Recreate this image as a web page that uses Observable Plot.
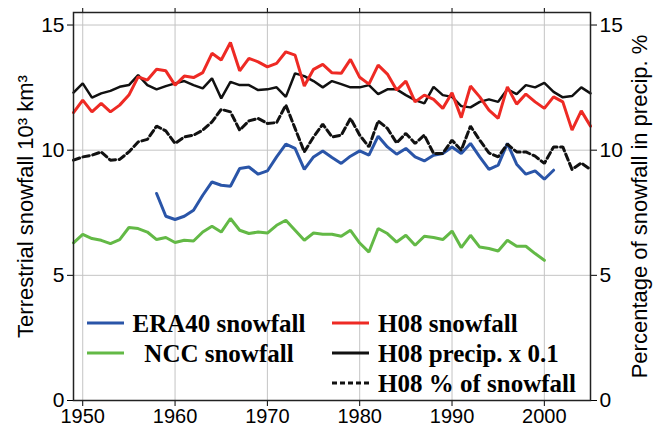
<!DOCTYPE html>
<html>
<head>
<meta charset="utf-8">
<script src="https://cdn.jsdelivr.net/npm/d3@7"></script>
<script src="https://cdn.jsdelivr.net/npm/@observablehq/plot@0.6"></script>
<style>
  html, body { margin: 0; padding: 0; background: #fff; }
  #chart { width: 659px; height: 432px; }
</style>
</head>
<body>
<div id="chart"></div>
<script>
// ---- Data ----
const firstYearH08 = 1949;   // H08 series and NCC start
const firstYearERA = 1958;   // ERA40 starts

const h08Snowfall = [11.5, 12.0, 11.53, 11.87, 11.53, 11.8, 12.2, 12.93, 12.8, 13.23,
  13.17, 12.6, 12.96, 12.9, 13.1, 13.87, 13.6, 14.3, 13.17, 13.67,
  13.53, 13.33, 13.47, 13.93, 13.8, 12.56, 13.23, 13.43, 13.09, 13.07,
  13.63, 12.91, 12.64, 13.4, 13.04, 12.4, 12.76, 11.93, 12.2, 12.03,
  11.67, 12.29, 11.3, 12.56, 12.13, 11.6, 11.27, 12.53, 11.84, 12.24,
  11.93, 11.67, 12.13, 11.93, 10.8, 11.57, 10.96];

const h08Precip = [12.3, 12.67, 12.1, 12.27, 12.37, 12.53, 12.6, 13.0, 12.6, 12.43,
  12.56, 12.67, 12.76, 12.6, 12.47, 12.87, 12.07, 12.73, 12.6, 12.6,
  12.4, 12.43, 12.51, 12.13, 13.07, 12.96, 12.76, 12.51, 12.76, 12.64,
  12.51, 12.51, 12.6, 12.24, 12.43, 12.43, 12.2, 12.0, 11.87, 12.53,
  12.2, 12.13, 11.76, 11.71, 11.93, 12.03, 11.93, 12.43, 12.24, 12.6,
  12.51, 12.69, 12.33, 12.11, 12.16, 12.51, 12.27];

const h08Percent = [9.6, 9.73, 9.8, 9.93, 9.6, 9.63, 9.93, 10.33, 10.43, 10.96,
  10.77, 10.27, 10.53, 10.6, 10.8, 11.13, 11.63, 11.53, 10.8, 11.17,
  11.27, 11.07, 11.1, 11.8, 10.87, 9.93, 10.53, 11.04, 10.53, 10.6,
  11.27, 10.6, 10.13, 11.17, 10.87, 10.29, 10.67, 10.27, 10.6, 9.87,
  9.87, 10.4, 10.0, 10.96, 10.4, 9.89, 9.73, 10.24, 9.93, 9.93,
  9.76, 9.47, 10.13, 10.13, 9.23, 9.49, 9.23];

const era40Snowfall = [8.27, 7.36, 7.23, 7.36, 7.6, 8.2, 8.73, 8.6, 8.56, 9.27,
  9.33, 9.04, 9.17, 9.73, 10.24, 10.07, 9.23, 9.73, 9.97, 9.71,
  9.47, 9.76, 9.97, 9.8, 10.56, 10.13, 9.84, 10.07, 9.73, 9.57,
  9.8, 9.87, 10.13, 9.87, 10.27, 9.73, 9.23, 9.4, 10.27, 9.44,
  9.04, 9.17, 8.84, 9.2];

const nccSnowfall = [6.3, 6.64, 6.47, 6.4, 6.27, 6.43, 6.91, 6.87, 6.73, 6.43,
  6.51, 6.31, 6.4, 6.37, 6.73, 6.96, 6.73, 7.27, 6.8, 6.67,
  6.73, 6.69, 7.0, 7.2, 6.8, 6.4, 6.69, 6.64, 6.64, 6.56,
  6.8, 6.29, 5.93, 6.87, 6.67, 6.33, 6.6, 6.2, 6.56, 6.51,
  6.43, 6.77, 6.11, 6.6, 6.13, 6.07, 5.97, 6.4, 6.16, 6.16,
  5.87, 5.6];

const xTicks = [1950, 1960, 1970, 1980, 1990, 2000];
const yTicks = [0, 5, 10, 15];

const leftTitle = "Terrestrial snowfall 10³ km³";
const rightTitle = "Percentage of snowfall in precip. %";

const legendLabels = ["ERA40 snowfall", "NCC snowfall", "H08 snowfall", "H08 precip. x 0.1", "H08 % of snowfall"];

// ---- Styles ----
const C_BLUE = "#2a55a8", C_GREEN = "#63b946", C_RED = "#ee2a24", C_BLACK = "#111";
const DASH = "6.5,3.5";
const LW = 3;

function toRows(start, values) {
  return values.map((v, i) => ({year: start + i, value: v}));
}

const chart = Plot.plot({
  width: 659,
  height: 432,
  marginLeft: 73,
  marginRight: 69,
  marginTop: 12,
  marginBottom: 32,
  style: {fontFamily: "'Liberation Sans', Arial, Helvetica, sans-serif", fontSize: "20px", background: "#fff", color: "#000"},
  x: {domain: [1949, 2005]},
  y: {domain: [0, 15.5]},
  marks: [
    Plot.gridX(xTicks, {stroke: "#c4c4c4", strokeOpacity: 1, strokeWidth: 1}),
    Plot.gridY(yTicks, {stroke: "#c4c4c4", strokeOpacity: 1, strokeWidth: 1}),
    Plot.axisX(xTicks, {anchor: "bottom", tickSize: 6, tickPadding: 2, fontSize: 20, tickFormat: d => String(d), label: null}),
    Plot.axisX(xTicks, {anchor: "top", tickSize: 5, tickFormat: () => "", label: null}),
    Plot.axisY(yTicks, {anchor: "left", tickSize: 6, tickPadding: 3, fontSize: 21, label: null}),
    Plot.axisY(yTicks, {anchor: "right", tickSize: 6, tickPadding: 3, fontSize: 21, label: null}),
    Plot.line(toRows(firstYearH08, nccSnowfall), {x: "year", y: "value", stroke: C_GREEN, strokeWidth: LW, strokeLinejoin: "miter"}),
    Plot.line(toRows(firstYearERA, era40Snowfall), {x: "year", y: "value", stroke: C_BLUE, strokeWidth: LW, strokeLinejoin: "miter"}),
    Plot.line(toRows(firstYearH08, h08Percent), {x: "year", y: "value", stroke: C_BLACK, strokeWidth: LW, strokeDasharray: DASH, strokeLinejoin: "miter"}),
    Plot.line(toRows(firstYearH08, h08Precip), {x: "year", y: "value", stroke: C_BLACK, strokeWidth: LW - 0.5, strokeLinejoin: "miter"}),
    Plot.line(toRows(firstYearH08, h08Snowfall), {x: "year", y: "value", stroke: C_RED, strokeWidth: LW, strokeLinejoin: "miter"}),
    Plot.frame({stroke: "#222", strokeWidth: 1.5}),
    Plot.text([leftTitle], {frameAnchor: "left", dx: -48, rotate: -90, fontSize: 22, textAnchor: "middle", fill: "#000"}),
    Plot.text([rightTitle], {frameAnchor: "right", dx: 49, rotate: -90, fontSize: 22, textAnchor: "middle", fill: "#000"})
  ]
});

document.getElementById("chart").appendChild(chart);

// ---- Legend inside the plot area ----
const svg = d3.select(chart);
const lg = svg.append("g")
  .attr("font-family", "'Liberation Serif', 'Times New Roman', serif")
  .attr("font-weight", "bold")
  .attr("font-size", 25)
  .attr("fill", "#000");

const legendItems = [
  {label: legendLabels[0], color: C_BLUE, dash: null, sx: 87, row: 0, tx: 219, anchor: "middle"},
  {label: legendLabels[1], color: C_GREEN, dash: null, sx: 87, row: 1, tx: 219, anchor: "middle"},
  {label: legendLabels[2], color: C_RED, dash: null, sx: 332, row: 0, tx: 378, anchor: "start"},
  {label: legendLabels[3], color: C_BLACK, dash: null, sx: 332, row: 1, tx: 378, anchor: "start"},
  {label: legendLabels[4], color: C_BLACK, dash: "5,3", sx: 332, row: 2, tx: 378, anchor: "start"}
];
legendItems.forEach(it => {
  const y = 323 + it.row * 30;
  lg.append("line")
    .attr("x1", it.sx).attr("x2", it.sx + 37)
    .attr("y1", y).attr("y2", y)
    .attr("stroke", it.color).attr("stroke-width", 3)
    .attr("stroke-dasharray", it.dash);
  lg.append("text")
    .attr("x", it.tx).attr("y", y + 9)
    .attr("text-anchor", it.anchor)
    .text(it.label);
});
</script>
</body>
</html>
